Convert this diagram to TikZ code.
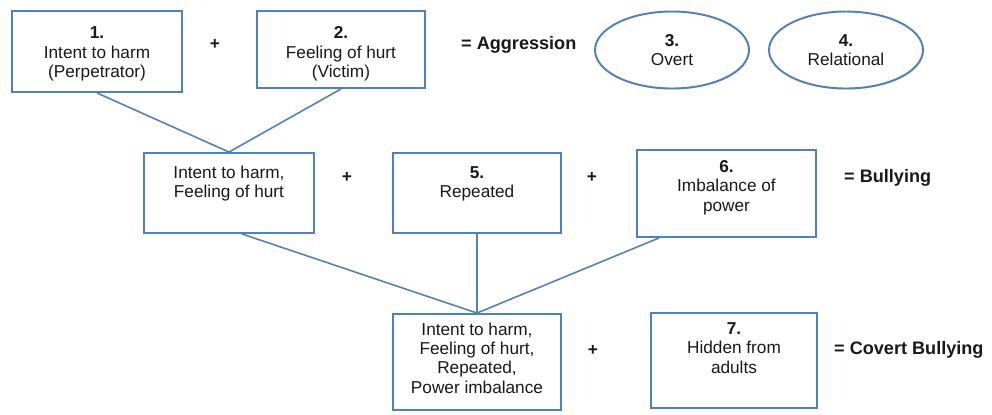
\documentclass[tikz,border=0pt]{standalone}
\usepackage{fontspec}
\setmainfont{Liberation Sans}
\usetikzlibrary{shapes.geometric,shadows}
\definecolor{boxblue}{RGB}{79,129,189}
\definecolor{txt}{RGB}{25,25,25}
\newcommand{\boxtext}[4][5pt]{\parbox[c][#3][t]{#2}{\centering\vspace*{#1}#4}}
\tikzset{
  every node/.style={font=\fontsize{9.8}{11}\selectfont, text=txt},
  blk/.style={draw=boxblue, line width=1.1pt, fill=white, inner sep=0pt,
              drop shadow={opacity=0.18, shadow xshift=0.7pt, shadow yshift=-0.7pt}},
  oval/.style={blk, ellipse, align=center, minimum width=3.08cm, minimum height=1.54cm},
  link/.style={draw=boxblue, line width=0.9pt},
  sum/.style={font=\fontsize{9.8}{11}\selectfont\bfseries},
  result/.style={font=\fontsize{10.3}{12}\selectfont\bfseries, anchor=west}
}

\begin{document}
\begin{tikzpicture}[x=0.02cm, y=-0.02cm]
  \useasboundingbox (0,0) rectangle (992,414);
  \node[blk] (harm) at (97,51.5) {\boxtext[9pt]{3.4cm}{1.62cm}{\textbf{1.}\\Intent to harm\\(Perpetrator)}};
  \node[sum] (p1) at (215,44) {+};
  \node[blk] (hurt) at (341,49.5) {\boxtext[9pt]{3.36cm}{1.54cm}{\textbf{2.}\\Feeling of hurt\\(Victim)}};
  \node[result] (aggr) at (455,45) {= Aggression};
  \node[oval] (overt) at (672,50) {\textbf{3.}\\Overt};
  \node[oval] (relat) at (846,50) {\textbf{4.}\\Relational};

  \node[blk] (both) at (229,193) {\boxtext[7.5pt]{3.4cm}{1.6cm}{Intent to harm,\\Feeling of hurt}};
  \node[sum] (p2) at (347,177) {+};
  \node[blk] (rep) at (477,193) {\boxtext[7.5pt]{3.36cm}{1.6cm}{\textbf{5.}\\Repeated}};
  \node[sum] (p3) at (592,177) {+};
  \node[blk] (power) at (726.5,193.5) {\boxtext[6pt]{3.58cm}{1.74cm}{\textbf{6.}\\Imbalance of\\power}};
  \node[result] (bully) at (838,178) {= Bullying};

  \node[blk] (all) at (477,362) {\boxtext{3.36cm}{1.92cm}{Intent to harm,\\Feeling of hurt,\\Repeated,\\Power imbalance}};
  \node[sum] (p4) at (593,350) {+};
  \node[blk] (hidden) at (734,360.5) {\boxtext[5.5pt]{3.32cm}{1.9cm}{\textbf{7.}\\Hidden from\\adults}};
  \node[result] (covert) at (828,350) {= Covert Bullying};

  \draw[link] (harm.south) -- (both.north);
  \draw[link] (hurt.south) -- (both.north);
  \draw[link] ([xshift=0.26cm]both.south) -- (all.north);
  \draw[link] (rep.south) -- (all.north);
  \draw[link] ([xshift=0.46cm]power.south west) -- (all.north);
\end{tikzpicture}
\end{document}
